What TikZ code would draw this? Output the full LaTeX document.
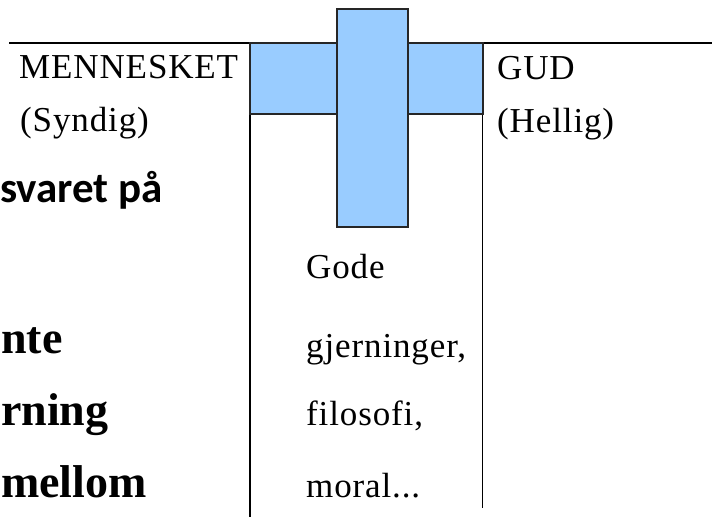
\documentclass[tikz,border=0pt]{standalone}
\usepackage{fontspec}
\setmainfont{Liberation Serif}
\newfontfamily\widefont[LetterSpace=2.5]{Liberation Serif}
\newfontfamily\calfont{Carlito}

\definecolor{crossblue}{RGB}{153,204,255}

\begin{document}
\begin{tikzpicture}[x=1pt,y=-1pt,
    plain/.style={font={\fontsize{35}{40}\selectfont\widefont},anchor=base west,inner sep=0pt},
    heavy/.style={font={\fontsize{46}{52}\selectfont\bfseries},anchor=base west,inner sep=0pt},
    sans/.style={font={\fontsize{43}{48}\selectfont\calfont\bfseries},anchor=base west,inner sep=0pt},
    divider/.style={line width=1.4pt},
    beam/.style={fill=crossblue,draw=black!85,line width=1.2pt}]
\useasboundingbox (0,0) rectangle (712,517);

% the columns
\draw[divider] (9,43)--(250,43);
\draw[divider] (483,43)--(712,43);
\draw[divider] (250,43)--(250,517);
\draw[divider] (482.5,43)--(482.5,508);

% the cross
\draw[beam] (250,43) rectangle (483,114);
\draw[beam] (337,9) rectangle (408,227);

% left side
\node[plain] (man) at (19,78) {MENNESKET};
\node[plain] (sinful) at (20,131) {(Syndig)};
\node[sans] (answer) at (0,202) {svaret på};
\node[heavy] (lineA) at (1,353) {nte};
\node[heavy] (lineB) at (1,425) {rning};
\node[heavy] (lineC) at (1,497) {mellom};

% middle
\node[plain] (good) at (306,278) {Gode};
\node[plain] (deeds) at (306,357) {gjerninger,};
\node[plain] (philo) at (306,425) {filosofi,};
\node[plain] (moral) at (306,497) {moral...};

% right side
\node[plain] (god) at (497,79) {GUD};
\node[plain] (holy) at (497,132) {(Hellig)};
\end{tikzpicture}
\end{document}
